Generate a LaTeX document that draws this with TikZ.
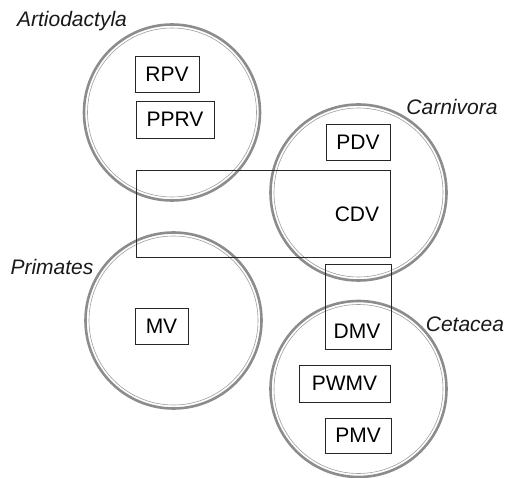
\documentclass[tikz,border=0pt]{standalone}
\usepackage{fontspec}
\setmainfont{Liberation Sans}
\begin{document}
\begin{tikzpicture}[x=1pt,y=-1pt,
  ring/.style={circle, minimum size=176pt, inner sep=0pt, draw=black!45, line width=2.6pt},
  ringin/.style={circle, minimum size=169pt, inner sep=0pt, draw=black!38, line width=0.6pt},
  vbox/.style={draw=black!85, line width=0.9pt, font=\fontsize{21}{23}\selectfont, inner sep=0pt},
  grp/.style={font=\fontsize{21}{23}\selectfont\itshape, text=black!90}]
\useasboundingbox (0,0) rectangle (506,478);
% circles
\node[ring] (art) at (172,112.5) {};
\node[ringin] at (art.center) {};
\node[ring] (car) at (358.5,192.5) {};
\node[ringin] at (car.center) {};
\node[ring] (pri) at (173.5,320.5) {};
\node[ringin] at (pri.center) {};
\node[ring] (cet) at (358.5,389) {};
\node[ringin] at (cet.center) {};
% group labels
\node[grp] (lart) at (72,21) {Artiodactyla};
\node[grp] (lcar) at (452,107) {Carnivora};
\node[grp] (lpri) at (52,267) {Primates};
\node[grp] (lcet) at (465,324) {Cetacea};
% boxes
\draw[vbox] (135,56) rectangle (199,92) node[midway] (rpv) {RPV};
\draw[vbox] (136,101) rectangle (214,138) node[midway] (pprv) {PPRV};
\draw[vbox] (326,124) rectangle (390,160) node[midway] (pdv) {PDV};
\draw[vbox] (136,170) rectangle (390,257);
\node[vbox, draw=none] (cdv) at (357,214) {CDV};
\draw[vbox] (325,264) rectangle (391,349);
\node[vbox, draw=none] (dmv) at (357,331) {DMV};
\draw[vbox] (135,308) rectangle (188,344) node[midway] (mv) {MV};
\draw[vbox] (299,365) rectangle (390,402) node[midway] (pwmv) {PWMV};
\draw[vbox] (325,418) rectangle (391,453) node[midway] (pmv) {PMV};
\end{tikzpicture}
\end{document}
